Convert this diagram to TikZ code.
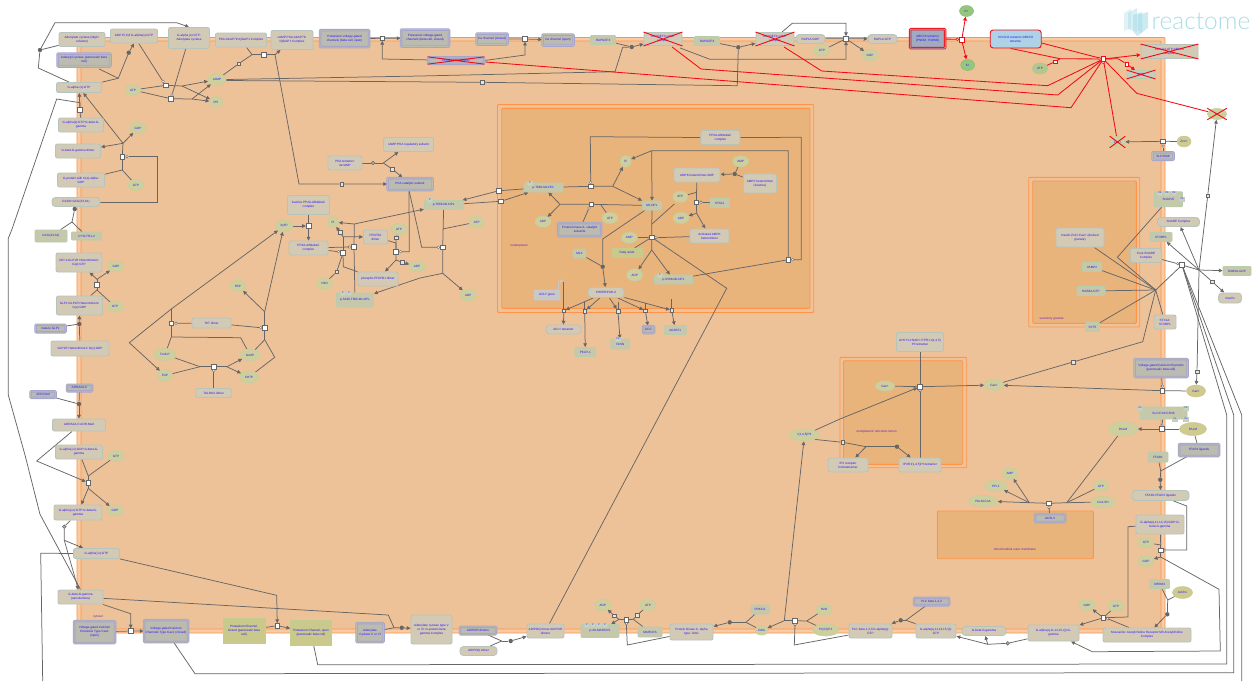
\documentclass[tikz,border=0pt]{standalone}
\usepackage{fontspec}
\setmainfont{Liberation Sans}
\newfontfamily\logof{Lato Light}
\usetikzlibrary{shapes.geometric,arrows.meta}
\pgfdeclarelayer{bg}\pgfdeclarelayer{edges}\pgfsetlayers{bg,edges,main}
\definecolor{ln}{HTML}{666666}
\definecolor{tx}{HTML}{2C10FF}
\definecolor{rd}{HTML}{F40A14}
\definecolor{cfill}{HTML}{D3CAB6}\definecolor{cedge}{HTML}{B6C4BC}
\definecolor{pfill}{HTML}{C6C8AC}\definecolor{pedge}{HTML}{B8CDAC}
\definecolor{sfill}{HTML}{BBBBB0}\definecolor{sedge}{HTML}{A4A4CE}
\definecolor{mfill}{HTML}{CDCF9E}\definecolor{medge}{HTML}{C4D09C}
\definecolor{dkfill}{HTML}{CFCB90}\definecolor{dkedge}{HTML}{CBC98E}
\definecolor{grfill}{HTML}{94C67F}\definecolor{gredge}{HTML}{86BE76}
\definecolor{yefill}{HTML}{C9C98C}\definecolor{yeedge}{HTML}{C5CC90}
\definecolor{tgfill}{HTML}{C8D4C0}\definecolor{tgedge}{HTML}{C0D0B8}
\definecolor{sqgrey}{HTML}{E4E4E0}\definecolor{cptx}{HTML}{6A20C0}
\definecolor{cpl}{HTML}{FF9448}\definecolor{cpa}{HTML}{F7CBA6}\definecolor{cpb}{HTML}{EEC298}\definecolor{cpc}{HTML}{E9B37C}
\definecolor{logoc}{HTML}{A9DCE8}\definecolor{abf}{HTML}{A0ABC0}\definecolor{kcf}{HTML}{AED2E6}
\definecolor{atg}{HTML}{B2C88C}\definecolor{ate}{HTML}{ACC88C}\definecolor{adg}{HTML}{C4CCC4}\definecolor{gng}{HTML}{C8C8C8}
\newcommand\J[2]{\coordinate (#1) at (#2);}
\newcommand\xcross[1]{\draw[xc] (#1.north -| #1.west)--(#1.south -| #1.east) (#1.north -| #1.east)--(#1.south -| #1.west);}
\tikzset{
 sz/.style 2 args={minimum width=#1,minimum height=#2},
 base/.style={inner sep=0pt,align=center,text=tx,font=\fontsize{3.1}{3.9}\selectfont},
 cx/.style={base,rectangle,fill=cfill,draw=cedge,line width=.9pt,rounded corners=2pt},
 pill/.style={cx,rounded corners=3.5pt},
 pr/.style={base,rectangle,fill=pfill,draw=pedge,line width=.8pt,rounded corners=1pt},
 st/.style={base,rectangle,fill=sfill,draw=sedge,line width=.8pt,double=sfill,double distance=.9pt,rounded corners=.8pt},
 mo/.style={base,ellipse,fill=mfill,draw=medge,line width=.6pt},
 modk/.style={base,ellipse,fill=dkfill,draw=dkedge,line width=.5pt},
 gr/.style={base,ellipse,fill=grfill,draw=gredge,line width=.5pt},
 ye/.style={base,rectangle,fill=yefill,draw=yeedge,line width=.5pt},
 tag/.style={base,rectangle,fill=tgfill,draw=tgedge,line width=.3pt,minimum width=5pt,minimum height=4pt,font=\fontsize{2.4}{3}\selectfont},
 rxn/.style={rectangle,fill=white,draw=ln,line width=.5pt,minimum size=4.6pt,inner sep=0pt},
 rxs/.style={rectangle,fill=sqgrey,draw=ln,line width=.4pt,minimum size=3.6pt,inner sep=0pt},
 cat/.style={circle,fill=white,draw=ln,line width=.4pt,minimum size=2.6pt,inner sep=0pt},
 dot/.style={circle,fill=ln,draw=none,minimum size=4.4pt,inner sep=0pt},
 ring/.style={circle,fill=ln!50!white,draw=ln,line width=.6pt,minimum size=3.6pt,inner sep=0pt},
 rrxn/.style={rxn,draw=rd,line width=.6pt},
 rcat/.style={cat,draw=rd,line width=.5pt},
 comp/.style={base,text=cptx,font=\fontsize{3.1}{3.6}\selectfont},
 ed/.style={draw=ln,line width=.75pt},
 ar/.style={ed,-{Triangle[length=3.8pt,width=3.6pt]}},
 re/.style={draw=rd,line width=.85pt},
 rar/.style={re,-{Triangle[length=3.8pt,width=3.6pt]}},
 xc/.style={draw=rd,line width=.9pt},
 cpo/.style={draw=cpl,line width=.9pt,rounded corners=1pt},
}
\begin{document}
\begin{tikzpicture}[x=1pt,y=-1pt]
\useasboundingbox (0,0) rectangle (1256,681);
\begin{pgfonlayer}{bg}
\fill[white] (0,0) rectangle (1256,681);
\draw[cpo,fill=cpa] (77,37.5) rectangle (1165,633);
\draw[cpo,fill=cpb] (81,41) rectangle (1161,629);
\draw[cpo,fill=cpb] (497.5,104.5) rectangle (813.7,312.5);
\draw[cpo,fill=cpc] (501.7,108.3) rectangle (810,308.3);
\draw[cpo,fill=cpb] (840,357.3) rectangle (966.7,467.7);
\draw[cpo,fill=cpc] (843.5,360.7) rectangle (962.7,464.3);
\draw[cpo,fill=cpb] (1028.7,177.3) rectangle (1139.7,327);
\draw[cpo,fill=cpc] (1032.7,181) rectangle (1136.3,323.3);
\draw[cpo,fill=cpc] (937.3,511) rectangle (1093.3,558.7);
\end{pgfonlayer}
% compartment labels
\node[comp] (lNuc) at (519,245.7) {nucleoplasm};
\node[comp] (lER) at (876.7,431.7) {endoplasmic reticulum lumen};
\node[comp] (lSec) at (1051.7,318.7) {secretory granule};
\node[comp] (lMit) at (1015,549.5) {mitochondrial outer membrane};
\node[comp] (lCyt) at (98,616.7) {cytosol};
% logo
\node[inner sep=0pt,text=logoc,font=\logof\fontsize{24.5}{25}\selectfont] (logo) at (1201,21) {reactome};
\fill[logoc,opacity=.35] (1124,13) -- (1131,9) -- (1131,28) -- (1124,31) -- cycle;
\fill[logoc,opacity=.45] (1128,13) -- (1137,8) -- (1137,32) -- (1128,29) -- cycle;
\fill[logoc,opacity=.55] (1133,15) -- (1142,12) -- (1142,33) -- (1137,36) -- (1133,31) -- cycle;
\fill[logoc,opacity=.6] (1138,15) -- (1148,12) -- (1148,28) -- (1141,33) -- (1138,30) -- cycle;
% ---- top row
\node[cx,sz={46}{14}] (acCof) at (82,39.5) {Adenylate cyclase (Mg2+\\cofactor)};
\node[st,sz={53}{13}] (acBeta) at (84,60) {Adenylyl cyclase (pancreatic beta\\cell)};
\node[cx,sz={47}{14}] (adcy) at (134,36) {ADCY5,6,8 G-alpha(s):GTP};
\node[cx,sz={41}{21}] (gasAC) at (189,38) {G-alpha (s):GTP:\\Adenylate cyclase};
\node[cx,sz={51}{14}] (pkaAk) at (241,40) {PKA:AKAP79:IQGAP1 Complex};
\node[cx,sz={42}{19}] (cAkap) at (292,40) {cAMP:PKA:AKAP79:\\IQGAP1 Complex};
\node[st,sz={49}{17}] (kOpen) at (344.5,38.7) {Potassium voltage-gated\\channels (beta cell, open)};
\node[st,sz={48}{17}] (kClosed) at (425,38) {Potassium voltage-gated\\channels (beta cell, closed)};
\node[st,sz={31}{11}] (caClosed) at (492,39) {Ca channel (closed)};
\node[st,sz={31}{11}] (caOpen) at (558,40) {Ca channel (open)};
\node[st,sz={56}{6.5}] (pclo) at (456,60.5) {PCLO:cAMP:RIMS2};
\node[pr,sz={25}{9}] (epac1) at (603,40) {RAPGEF3};
\node[cx,sz={38}{13}] (epac1c) at (663,39) {RAPGEF3:cAMP\\complex};
\node[pr,sz={25}{9}] (epac2) at (707,41) {RAPGEF4};
\node[cx,sz={38}{13}] (epac2c) at (775,39) {RAPGEF4:cAMP\\complex};
\node[pill,sz={29}{9}] (rapD) at (810.5,39) {RAP1A:GDP};
\node[pill,sz={29}{9}] (rapT) at (882.5,39) {RAP1A:GTP};
\node[mo,sz={16}{11}] (gtpR) at (822,50.5) {GTP};
\node[mo,sz={16}{11}] (gdpR) at (870,55) {GDP};
% red group
\node[st,draw=rd,sz={35}{19},fill=abf,double=abf] (abcc) at (927.7,38.7) {ABCC8 tetramer\\(PNDM, TNDM2)};
\node[cx,draw=rd,fill=kcf,rounded corners=3pt,sz={51}{18}] (kcnj) at (1015.7,39) {KCNJ11 tetramer:ABCC8\\tetramer};
\node[gr,sz={14}{11}] (kU) at (966.5,11) {K+};
\node[gr,sz={14}{11}] (kL) at (967.7,65) {K+};
\node[mo,fill=atg,draw=ate,sz={15}{11}] (atpK) at (1040,68.5) {ATP};
\node[cx,sz={57}{14}] (kcAtp) at (1169.5,51.5) {KCNJ11:ATP:ABCC8\\tetramer};
\node[pr,fill=adg,sz={28}{8}] (adpK) at (1141,74.5) {ADP};
\node[mo,sz={19}{11}] (xK) at (1217,114) {K+};
\node[mo,sz={15}{11}] (xZn) at (1117.5,142) {Zn2+};
\node[modk,sz={14}{11}] (zn) at (1184,141.5) {Zn2+};
\node[st,sz={21}{7.5}] (slc) at (1163,156) {SLC30A8};
% upper left
\node[cx,sz={45}{10}] (gasGTP) at (79,87.5) {G-alpha (s):GTP};
\node[mo,sz={15}{11}] (atp1) at (133,90) {ATP};
\node[mo,sz={18}{12}] (camp) at (217,79.5) {cAMP};
\node[mo,sz={13}{11}] (ppi1) at (216,102) {PPi};
\node[cx,sz={45}{14}] (gsH) at (81,125) {G-alpha(s):GTP:G-beta:G-\\gamma};
\node[mo,sz={16}{11}] (gdp1) at (138,128) {GDP};
\node[cx,sz={45}{14}] (gbgD) at (78,151) {G-beta:G-gamma dimer};
\node[cx,sz={47}{14}] (gProt) at (81,180) {G-protein with G(s)-alpha:\\GDP};
\node[mo,sz={16}{11}] (gtp1) at (136,185) {GTP};
\node[pill,sz={48}{9}] (gcgr) at (76,202) {GCGR:GCG(33-61)};
\node[pr,sz={32}{12}] (gcg) at (51,236) {GCG(33-61)};
\node[pr,sz={30}{8}] (gcgr2) at (86.5,236) {CYSLTR1-2};
\node[cx,sz={46}{19}] (glpT) at (79,262.5) {GIP-1:GLP1R Heterotrimeric\\G(s):GTP};
\node[mo,sz={16}{11}] (gdp2) at (116,266.5) {GDP};
\node[mo,sz={16}{11}] (gtp2) at (115,306.5) {GTP};
\node[cx,sz={46}{19}] (glpD) at (79.5,305.5) {GLP1:GLP1R Heterotrimeric\\G(s):GDP};
\node[st,sz={30}{7.5}] (glp1) at (50.5,328.5) {mature GLP1};
\node[cx,sz={58}{15}] (glpR) at (80,348.5) {GLP1R Heterotrimeric G(s):GDP};
\node[st,sz={25}{6.5}] (adra) at (79.5,388) {ADRA2A,C};
\node[st,sz={25}{6.5}] (adr) at (43,394.5) {ADR,NAd};
\node[cx,sz={53}{12}] (adraL) at (79,425) {ADRA2A,C:ADR,NAd};
\node[cx,sz={47}{14}] (giD) at (79,452) {G-alpha(i,o):GDP:G-beta:G-\\gamma};
\node[mo,sz={16}{11}] (gtp3) at (116,456) {GTP};
\node[cx,sz={48}{15}] (giT) at (78,512.5) {G-alpha(i,o):GTP:G-beta:G-\\gamma};
\node[mo,sz={16}{11}] (gdp3) at (115,510.5) {GDP};
\node[cx,sz={46}{10}] (giA) at (96.5,553.5) {G-alpha(i,o):GTP};
\node[cx,sz={45}{14}] (gbS) at (80.5,597) {G-beta:G-gamma\\(sarcolemma)};
\node[st,sz={41}{22}] (vgOpen) at (94.5,632) {Voltage-gated Calcium\\Channels Type Cav1\\(open)};
\node[st,sz={44}{22}] (vgClosed) at (166,631) {Voltage-gated Calcium\\Channels Type Cav1 (closed)};
\node[ye,sz={42}{25}] (kcClosed) at (244,630.5) {Potassium Channel,\\closed (pancreatic beta\\cell)};
\node[ye,sz={41}{25}] (kcOpen) at (311,632.5) {Potassium Channel, open\\(pancreatic beta cell)};
\node[st,sz={27}{19}] (acV) at (370,632.5) {Adenylate\\Cyclase V or VI};
\node[cx,sz={41}{29}] (acVg) at (431.5,629.5) {Adenylate cyclase type V\\or VI: G-protein beta\\gamma Complex};
\node[st,sz={36}{7.5}] (adipor) at (478,630.5) {ADIPOR dimers};
\node[pill,sz={37}{9}] (adipoq) at (478.5,651) {ADIPOQ trimer};
\node[cx,sz={37}{14}] (adipoc) at (545.5,631) {ADIPOQ trimer:ADIPOR\\dimers};
\node[pr,sz={38}{13}] (pMarcks) at (600,631) {p-4S-MARCKS};
\foreach \i/\xx in {1/587,2/593,3/599,4/605}{\node[tag] (tM\i) at (\xx,625) {P};}
\node[pr,sz={24}{10}] (marcks) at (650,632) {MARCKS};
\node[mo,sz={16}{11}] (adpM) at (602.7,605) {ADP};
\node[mo,sz={16}{11}] (atpM) at (648,605) {ATP};
\node[cx,sz={43}{16}] (pkc) at (691.5,632) {Protein kinase C, alpha\\type: DAG};
\node[pr,sz={18}{9}] (prkca) at (760,609.5) {PRKCA};
\node[mo,sz={13}{9}] (dag) at (761.7,630.5) {DAG};
\node[mo,sz={16}{11}] (h2oP) at (824,609.7) {H2O};
\node[mo,sz={26}{12}] (pip2) at (825.7,630) {PI(4,5)P2};
\node[cx,sz={43}{14}] (plcG) at (870.5,631) {PLC beta 1,2,3:G-alpha(q):\\GTP};
\node[st,sz={35}{7.5}] (plc) at (931.5,601.5) {PLC beta 1,2,3};
\node[cx,sz={40}{14}] (gqT) at (936,631) {G-alpha(q,11,14,15,Q):\\GTP};
\node[pill,sz={44}{9}] (gbgQ) at (984,631) {G-beta:G-gamma};
\node[cx,sz={51}{16}] (gqH) at (1053.5,633) {G-alpha(q,11,14,15,Q):G-\\gamma};
\node[cx,sz={88}{14}] (mAch) at (1147,635) {Muscarinic Acetylcholine Receptor M3:Acetylcholine\\Complex};
\node[mo,sz={16}{11}] (gdpQ) at (1087,605) {GDP};
\node[mo,sz={16}{11}] (gtpQ) at (1116,606) {GTP};
\node[pr,sz={20}{9}] (chrm) at (1159.5,584) {CHRM3};
\node[modk,sz={20}{12}] (acch) at (1182.5,592.5) {AcCho};
\node[cx,sz={48}{19}] (gqD) at (1160,524.5) {G-alpha(q,11,14,15):GDP:G-\\beta:G-gamma};
\node[mo,sz={16}{11}] (gtpF) at (1146,542.5) {GTP};
\node[mo,sz={16}{11}] (gdpF) at (1146,561) {GDP};
\node[pill,sz={57}{10}] (ffarL) at (1160.5,495.5) {FFAR1:FFAR1 ligands};
\node[pr,sz={20}{10}] (ffar) at (1158,457) {FFAR1};
\node[st,sz={40}{12}] (ligS) at (1199,450) {FFAR1 ligands};
\node[modk,sz={27}{13}] (palmO) at (1193,429) {PALM};
\node[mo,sz={29}{14}] (palmI) at (1123,429) {PALM};
\node[pr,sz={47}{12}] (cd36) at (1163.5,413) {SLC27A6:CD36};
\foreach \i/\xx/\yy in {1/1140/408,2/1186/408,3/1175/419,4/1186/419}{\node[tag] (tC\i) at (\xx,\yy) {Pa};}
\node[st,sz={53}{18}] (vgBeta) at (1161,368) {Voltage-gated Calcium Channels\\(pancreatic beta cell)};
\node[modk,sz={19}{12}] (caO) at (1196,391) {Ca2+};
\node[mo,sz={19}{11}] (caC) at (994,385) {Ca2+};
\node[mo,sz={19}{10}] (caE) at (885,386) {Ca2+};
\node[cx,sz={47}{19}] (ahcy) at (920,342) {AHCYL1:NAD+:ITPR1:I(1,4,5)\\P3 tetramer};
\node[cx,sz={40}{14}] (ip3r) at (848,465) {IP3 receptor\\homotetramer};
\node[cx,sz={42}{14}] (ip3t) at (920,465) {IP3R:I(1,4,5)P3 tetramer};
\node[mo,sz={29}{12}] (ip3) at (804.5,435) {I(1,4,5)P3};
% acsl
\node[mo,sz={16}{11}] (amp3) at (1010,473.5) {AMP};
\node[mo,sz={22}{11}] (ppi3) at (995.8,486) {PPi-1};
\node[mo,sz={29}{11}] (palmC) at (983,501) {PALM-CoA};
\node[mo,sz={15}{11}] (atpA) at (1101,486) {ATP};
\node[mo,sz={24}{11}] (coa) at (1103,502) {CoA-SH};
\node[st,sz={30}{8}] (acsl) at (1050,518) {ACSL3};
% right
\node[pr,sz={28}{15}] (snap) at (1168.5,199.3) {SNAP25};
\foreach \i/\xx/\yy in {1/1160/193,2/1167/193,3/1174/193,4/1182/199}{\node[tag] (tS\i) at (\xx,\yy) {PA};}
\node[pill,sz={42}{9}] (snare) at (1178.5,222) {SNARE Complex};
\node[cx,sz={48}{19}] (gran) at (1080,237.5) {Insulin:Zn2+:Ca2+ (docked\\granule)};
\node[pr,sz={22}{9}] (stxbp) at (1161,237) {STXBP1};
\node[cx,sz={31}{14}] (core) at (1146,255.3) {Core SNARE\\Complex};
\node[pr,sz={19}{9}] (vamp) at (1092,267) {VAMP2};
\node[pr,sz={28}{9}] (rabT) at (1091,291) {RAB3A-GTP};
\node[pr,sz={14}{9}] (syt) at (1092.5,327) {SYT5};
\node[cx,sz={22}{14}] (stx) at (1165,322) {STX1A:\\STXBP1};
\node[pr,sz={28}{9}] (rabD) at (1237,271) {RAB3A-GDP};
\node[pill,sz={23}{10}] (ins) at (1230,298) {Insulin};
% center
\node[cx,sz={42}{19}] (ppIn) at (308.5,205) {inactive PP2A-ABdeltaC\\complex};
\node[cx,sz={34}{14}] (pkaT) at (345,163) {PKA tetramer:\\4xcAMP};
\node[cx,sz={50}{14}] (pkaR) at (408.5,144.5) {cAMP:PKA regulatory subunit};
\node[st,sz={45}{12}] (pkaC) at (410,184) {PKA catalytic subunit};
\node[mo,sz={18}{11}] (xy5) at (284,226) {Xy5P};
\node[cx,sz={39}{14}] (ppC) at (308.5,248) {PP2A-ABdeltaC\\complex};
\node[mo,sz={11}{11}] (piA) at (333,222) {Pi};
\node[mo,sz={16}{11}] (atpF) at (399,229) {ATP};
\node[cx,sz={24}{14}] (pfk) at (375.5,237) {PFKFB1\\dimer};
\node[cx,sz={40}{14}] (pfkP) at (378,279) {phospho-PFKFB1 dimer};
\node[pr,sz={37}{14}] (pST) at (355,300) {p-S196,T666-MLXIPL};
\node[tag] (tP1) at (343,293) {P};\node[tag] (tP2) at (349,293) {P};
\node[mo,sz={16}{11}] (h2oA) at (324.5,283.5) {H2O};
\node[mo,sz={16}{11}] (adpF) at (417,266.5) {ADP};
\node[mo,sz={16}{12}] (adpG) at (468.3,295) {ADP};
\node[mo,sz={15}{11}] (atpG) at (476.7,222) {ATP};
\node[pr,sz={39}{9}] (pT1) at (443.7,205) {p-T666-MLXIPL};
\node[tag] (tT1) at (430,200) {P};
\node[pr,sz={39}{9}] (pT2) at (543.5,187.5) {p-T666-MLXIPL};
\node[tag] (tT2) at (530,183) {P};
\node[mo,sz={11}{12}] (piB) at (625.7,161.3) {Pi};
\node[pr,sz={19}{9}] (mlxipl) at (652,205.5) {MLXIPL};
\node[mo,sz={16}{11}] (adpH) at (543,221.7) {ADP};
\node[mo,sz={16}{11}] (atpH) at (610,218) {ATP};
\node[st,sz={43}{13}] (pkaN) at (579.7,229.5) {Protein kinase A, catalytic\\subunits};
\node[cx,sz={39}{14}] (ppN) at (720.3,137.5) {PP2A-ABdeltaC\\complex};
\node[mo,sz={16}{11}] (ampN) at (740.7,161.3) {AMP};
\node[cx,sz={46}{14}] (ampkA) at (697,175) {AMPK heterotrimer:AMP};
\node[cx,sz={33}{19}] (ampkI) at (760,183.5) {AMPK heterotrimer\\(inactive)};
\node[mo,sz={15}{11}] (atpN) at (680.3,196.7) {ATP};
\node[mo,sz={16}{11}] (adpN) at (681,218) {ADP};
\node[pr,sz={19}{9}] (stk) at (719.7,203) {STK11};
\node[cx,sz={39}{14}] (ampkO) at (709.5,236) {Activated AMPK\\heterotrimer};
\node[mo,sz={16}{11}] (ampF) at (629.3,237.7) {AMP};
\node[ye,sz={30}{9}] (fa) at (627,252.5) {Fatty acids};
\node[mo,sz={16}{12}] (adpS) at (634.7,275) {ADP};
\node[pr,sz={38}{9}] (pS) at (673.5,279.5) {p-S568-MLXIPL};
\node[tag] (tS) at (660,275) {P};
\node[pr,sz={13}{9}] (mlx) at (579.5,253.5) {MLX};
\node[pill,sz={36}{10}] (chre) at (606,292.5) {CHREBP:MLX};
\node[pr,fill=gng,draw=gng,rounded corners=1pt,sz={26}{10}] (acg) at (547,295) {ACLY gene};
\node[pill,sz={35}{9}] (acly) at (563.5,329.5) {ACLY tetramer};
\node[pr,sz={21}{9}] (pklr) at (585.3,352) {PKLR-1};
\node[pr,sz={19}{10}] (fasn) at (620.3,344) {FASN};
\node[tag] (tF) at (618,339) {PE};
\node[st,sz={11}{7}] (acc) at (648.5,329.5) {ACC};
\node[pr,sz={22}{9}] (agp) at (675.3,330) {AGPAT1};
% PPP
\node[mo,sz={15}{12}] (r5p) at (238,286) {R5P};
\node[mo,sz={22}{12}] (fru) at (165,354.5) {Fru6-P};
\node[mo,sz={15}{12}] (e4p) at (165,375.5) {E4P};
\node[mo,sz={19}{12}] (ga3) at (250,355) {GA3P};
\node[mo,sz={19}{12}] (sh7) at (249,377) {SH7P};
\node[cx,sz={36}{9}] (tald) at (213.7,393) {TALDO1 dimer};
\node[cx,sz={39}{10}] (tkt) at (211.5,323) {TKT dimer};
% ---- crosses
\xcross{pclo}\xcross{epac1c}\xcross{epac2c}\xcross{kcAtp}\xcross{adpK}\xcross{xK}\xcross{xZn}
% ---- reaction markers
\foreach \n/\p in {
 r1/{165.7,85.3},r2/{170.7,98.7},r3/{263.7,54.7},r4/{382.3,38.3},r5/{525,39},r6/{846,38.7},
 r7/{80,110},r8/{122.3,156.7},r9/{97,284.7},r10/{88.3,482.7},r11/{130.7,631},r12/{277.3,625.7},
 r13/{308.5,226},r14/{354,247},r15/{343,253},r16/{396,251.7},r17/{442.7,247.3},r18/{499,190.7},
 r19/{501,201.3},r20/{590.7,186.3},r21/{591.3,204.3},r22/{788.3,259.7},r23/{696.3,202.3},r24/{651.7,237.3},
 r25/{264.7,327.7},r26/{171.3,323.3},r27/{213.7,366.7},r28/{626.3,619.7},r29/{795,620.7},r30/{920,386.7},
 r31/{1162.7,141.3},r32/{1162.3,390.7},r33/{1162,429},r34/{1049,503.3},r35/{1160.7,550.3},r36/{1103.3,617.7},r37/{1182,265}}
 {\node[rxn] (\n) at (\p) {};}
\foreach \n/\p in {
 s1/{238.7,63.7},s2/{341.7,184},s3/{392.3,169},s4/{482,82.3},s5/{396,237.7},s6/{402,262.3},s7/{336.7,271.7},s8/{340,232.3},
 s9/{563.7,310.7},s10/{584.7,311.3},s11/{618,311},s12/{645.3,310.7},s13/{671.7,310.3},s14/{614.3,615.7},s15/{637.3,615.3},
 s16/{1073,362},s17/{842.7,442.3},s18/{1207.7,195.7},s19/{1212.3,281.7},s20/{1197,371.7}}
 {\node[rxs] (\n) at (\p) {};}
\foreach \n/\p in {
 c1/{163,81.5},c2/{172,95},c3/{127,156.7},c4/{176,323.3},c5/{260.7,327.7},c6/{349.3,247},c7/{338.3,251.7},c8/{400.7,251.7},
 c9/{438.3,247.3},c10/{590.7,182.3},c11/{589,208},c12/{792.7,259.7},c13/{701,202.3},c14/{656,237.7},c15/{213.7,370.7},c16/{626.3,623.7},
 c17/{795,624.7},c18/{920,390.7},c19/{1163,146},c20/{1162.3,386},c21/{1162,425},c22/{1049,507.7},c23/{1165,550},c24/{1107.7,618.7},c25/{1177.7,263.7}}
 {\node[cat] (\n) at (\p) {};}
\foreach \n/\p in {
 d1/{40,50},d2/{128.7,52.7},d3/{74.7,209},d4/{79.3,324},d5/{79,404},d6/{631.7,47},d7/{738.3,47.3},d8/{734.7,174},d9/{602.7,266.7},
 d10/{401.7,627.7},d11/{510.7,641},d12/{729.7,622.3},d13/{900.7,620.3},d14/{897,446.7},d15/{1160.3,479.7},d16/{1167.3,614.3}}
 {\node[dot] (\n) at (\p) {};}
\node[ring] (g1) at (373,163) {};
\node[ring] (g2) at (64.3,526.7) {};
\node[ring] (g3) at (1007.7,643.3) {};
\node[rrxn] (rH) at (1103.3,59) {};
\node[rrxn] (rK) at (961.7,40) {};
\node[rrxn,minimum size=3.8pt] (rA) at (1055,61.7) {};
\node[rrxn,minimum size=3.8pt] (rB) at (1126.7,64) {};
\node[rcat] (rc1) at (1099,58.3) {};
\node[rcat] (rc2) at (1103,62.6) {};
\node[rcat] (rc3) at (957.3,39.3) {};
% ---- junctions
\J{jA}{182,86}\J{jB}{192,99}\J{jC}{252,54.7}\J{jD}{275,54.7}\J{jE}{118.3,78.3}\J{jF}{123,143.3}\J{jG}{122.3,170}
\J{jH}{72,222}\J{jI}{56.7,99}\J{jJ}{383.3,163}\J{jK}{97,279.3}\J{jL}{97,290}\J{jM}{36.7,461}\J{jN}{88.3,476}\J{jO}{88.3,488.3}
\J{jP}{64.3,540.3}\J{jQ}{171.3,309}\J{jR}{171.3,337}\J{jS}{264.7,311.7}\J{jT}{264.7,339.7}\J{jU}{200,366.7}\J{jV}{226.7,366.7}
\J{jW}{396,260}\J{jX}{343.3,266.7}\J{jY}{343,236.7}\J{jZ}{354.3,224}
\J{ka}{442.7,273.3}\J{kb}{442.7,229}\J{kc}{612.7,186.3}\J{kd}{560,204.3}\J{ke}{601,205}\J{kf}{651.7,150.7}\J{kg}{696.7,192.3}\J{kh}{696.7,213.3}
\J{ki}{651.7,250}\J{kj}{652,224}\J{kk}{501.7,641}\J{km}{746,622.3}\J{kn}{784.3,620.7}\J{ko}{806.7,621}\J{kp}{619,619.3}\J{kq}{633.3,619.3}
\J{kr}{906,620.3}\J{ks}{987.7,644.3}\J{kt}{1167.7,600}\J{ku}{1160.7,471}\J{kv}{1160.7,545}\J{kw}{1160.7,557}
\J{kx}{1066.7,502.7}\J{ky}{1029.3,502.7}\J{kz}{866,446.7}
\J{ma}{1155.7,290}\J{mb}{1199,270}\J{mc}{394,627.7}\J{md}{80,102.7}\J{me}{846,44}\J{mf}{846,33}\J{mg}{628,45}
% ---- connectors
\begin{pgfonlayer}{edges}
\draw[ed] (acCof) -- (d1);
\draw[ed] (gasGTP.north) ++(-10,0) -- (38.3,68) -- (d1);
\draw[ar] (d1) -- (55,22.7) -- (176.7,22.7) -- (gasAC.north);
\draw[ed] (gasGTP) -- (jE); \draw[ed] (acBeta.south) ++(15,2) -- (jE);
\draw[ed] (jE) -- (d2); \draw[ar] (d2) -- (adcy.south);
\draw[ed] (atp1) -- (r1); \draw[ed] (atp1) -- (r2);
\draw[ed] (r1) -- (jA); \draw[ar] (jA) -- (camp); \draw[ar] (jA) -- (ppi1);
\draw[ed] (r2) -- (jB); \draw[ar] (jB) -- (camp); \draw[ar] (jB) -- (ppi1);
\draw[ed] (adcy) -- (c1); \draw[ed] (gasAC) -- (c2);
\draw[ed] (camp) -- (s1) -- (jC); \draw[ed] (pkaAk) -- (jC); \draw[ed] (jC) -- (r3) -- (jD);
\draw[ar] (jD) -- (cAkap); \draw[ar] (jD) -- (299,184) -- (s2) -- (pkaC);
\draw[ar] (kOpen) -- (r4) -- (kClosed);
\draw[ar] (pclo) -- (382.3,59) -- (r4);
\draw[ar] (caClosed) -- (r5) -- (caOpen);
\draw[ar] (pclo.east) -- (525,55) -- (r5);
\draw[ed] (camp.east) -- (420,76) -- (615,71.7) -- (622.7,47.3) -- (d6);
\draw[ed] (camp.east) ++(0,1) -- (s4) -- (737.3,85.7) -- (d7);
\draw[ed] (epac1) -- (d6); \draw[ar] (d6) -- (epac1c);
\draw[ed] (epac2) -- (d7); \draw[ar] (d7) -- (epac2c);
\draw[ar] (rapD) -- (r6) -- (rapT);
\draw[ed] (gtpR) -- (r6); \draw[ar] (r6) -- (gdpR);
\draw[ar] (epac1c.south) ++(17,2) -- (710,59.3) -- (846,59.3) -- (r6);
\draw[ar] (epac2c.north) ++(7,0) -- (792.3,23.3) -- (846,23.3) -- (r6);
% red
\draw[re] (pclo.east) ++(1,1.5) -- (1071,107.7) -- (rH);
\draw[re] (epac1c.south) ++(9,1) -- (701,69) -- (1057.7,95) -- (rH);
\draw[re] (epac2c.south) ++(9,1) -- (821.7,71) -- (1047.7,85.7) -- (rH);
\draw[re] (abcc) -- (rc3); \draw[re] (rc3) -- (rK);
\draw[rar] (rK) -- (kU); \draw[rar] (rK) -- (kL);
\draw[re] (kcnj.east) ++(0,4) -- (rH);
\draw[re] (kcnj.south) ++(-5,0) -- (1060,58.7) -- (rH);
\draw[re] (atpK) -- (rA) -- (1060,58.7);
\draw[rar] (rH) -- (kcAtp);
\draw[re] (rH) -- (1118,58.7) -- (rB); \draw[rar] (rB) -- (adpK);
\draw[re] (rH) -- (1136.7,93.3) -- (xK);
\draw[re] (rH) -- (xZn);
% zinc
\draw[ar] (zn) -- (r31) -- (xZn); \draw[ed] (slc) -- (c19);
\draw[ar] (mb) -- (s18) -- (xK);
% gpcr
\draw[ar] (gsH) -- (r7) -- (gasGTP);
\draw[ed] (r7) -- (md) -- (jI) -- (11.7,230) -- (8.3,238.3) -- (8.3,395) -- (25,455) -- (40,514.3) -- (gbS.north);
\draw[ed] (r8) -- (jF); \draw[ar] (jF) -- (gdp1); \draw[ar] (jF) -- (gbgD); \draw[ar] (jF) -- (gasGTP);
\draw[ed] (r8) -- (jG); \draw[ed] (gProt) -- (jG); \draw[ed] (gtp1) -- (jG);
\draw[ed] (gcgr) -- (157.7,202) -- (157.7,156.7) -- (c3);
\draw[ed] (gcg) -- (jH); \draw[ed] (gcgr2) -- (jH); \draw[ed] (jH) -- (d3); \draw[ar] (d3) -- (gcgr);
\draw[ed] (r9) -- (jK); \draw[ar] (jK) -- (glpT); \draw[ar] (jK) -- (gdp2);
\draw[ed] (r9) -- (jL); \draw[ed] (glpD) -- (jL); \draw[ed] (gtp2) -- (jL);
\draw[ed] (glpR) -- (d4); \draw[ed] (glp1) -- (d4); \draw[ar] (d4) -- (glpD);
\draw[ed] (adra) -- (d5); \draw[ed] (adr) -- (d5); \draw[ar] (d5) -- (adraL);
\draw[ar] (adraL.south) ++(-7,0) -- (jM) -- (r10);
\draw[ed] (giD) -- (jN); \draw[ed] (gtp3) -- (jN); \draw[ed] (jN) -- (r10) -- (jO);
\draw[ar] (jO) -- (giT); \draw[ar] (jO) -- (gdp3);
\draw[ed] (giT) -- (g2) -- (jP); \draw[ar] (jP) -- (giA); \draw[ar] (jP) -- (gbS);
\draw[ar] (giA) -- (276.7,595.3) -- (r12);
\draw[ar] (kcClosed) -- (r12) -- (kcOpen);
\draw[ar] (gbS) -- (130.7,613.7) -- (r11);
\draw[ar] (vgOpen) -- (r11) -- (vgClosed);
\draw[ed] (gbS) -- (388.3,615) -- (mc);
\draw[ed] (acV) -- (mc) -- (d10); \draw[ar] (d10) -- (acVg);
% long bottom lines
\draw[ed] (r37) -- (1226.7,415) -- (1226.7,664) -- (317.7,664.7) -- (kcOpen);
\draw[ed] (r37) -- (1233.7,415) -- (1233.7,672.7) -- (195,673.7) -- (vgClosed);
\draw[ed] (r37) -- (1241.7,415) -- (1241.7,681);
\draw[ed] (42.7,681) -- (40.7,553.3) -- (giA);
% adipo
\draw[ed] (adipor) -- (kk); \draw[ed] (adipoq) -- (kk); \draw[ed] (kk) -- (d11); \draw[ar] (d11) -- (adipoc);
\draw[ed] (adipoc) -- (726.7,288.3) -- (r24);
% marcks
\draw[ed] (pkc) -- (627.3,645) -- (c16);
\draw[ed] (marcks) -- (kq) -- (r28); \draw[ed] (atpM) -- (s15) -- (kq);
\draw[ed] (r28) -- (kp); \draw[ar] (kp) -- (s14) -- (adpM); \draw[ar] (kp) -- (pMarcks);
\draw[ed] (prkca) -- (km); \draw[ed] (dag) -- (km); \draw[ed] (km) -- (d12); \draw[ar] (d12) -- (pkc);
\draw[ed] (plcG) -- (794.3,645) -- (c17);
\draw[ed] (r29) -- (kn); \draw[ar] (kn) -- (dag); \draw[ar] (kn) -- (ip3);
\draw[ed] (h2oP) -- (ko); \draw[ed] (pip2) -- (ko); \draw[ed] (ko) -- (r29);
\draw[ed] (plc) -- (kr); \draw[ed] (gqT) -- (kr); \draw[ed] (kr) -- (d13); \draw[ar] (d13) -- (plcG);
\draw[ed] (gqH) -- (g3) -- (ks); \draw[ar] (ks) -- (gbgQ); \draw[ar] (ks) -- (gqT);
% ca
\draw[ed] (ahcy) -- (r30); \draw[ed] (ip3t) -- (c18);
\draw[ed] (caE) -- (r30); \draw[ar] (r30) -- (caC);
\draw[ar] (ip3) -- (840,419) -- (r30);
\draw[ed] (ip3.south east) -- (s17) -- (kz); \draw[ar] (kz) -- (ip3r);
\draw[ed] (kz) -- (d14); \draw[ar] (d14) -- (ip3t);
\draw[ed] (vgBeta) -- (c20); \draw[ar] (caO) -- (r32) -- (caC);
\draw[ed] (cd36) -- (c21); \draw[ar] (palmO) -- (r33) -- (palmI);
\draw[ed] (palmO) -- (ligS);
\draw[ed] (palmI) -- (1103.3,455) -- (kx);
\draw[ed] (atpA) -- (kx); \draw[ed] (coa) -- (kx); \draw[ed] (kx) -- (r34) -- (ky);
\draw[ar] (ky) -- (amp3); \draw[ar] (ky) -- (ppi3); \draw[ar] (ky) -- (palmC);
\draw[ed] (acsl) -- (c22);
\draw[ed] (ffar) -- (ku); \draw[ed] (ligS) -- (ku); \draw[ed] (ku) -- (d15); \draw[ar] (d15) -- (ffarL);
\draw[ed] (ffarL.south) ++(13,0) -- (1186.7,506) -- (1186.7,550) -- (c23);
\draw[ed] (gqD) -- (kv); \draw[ed] (gtpF) -- (kv); \draw[ed] (kv) -- (r35) -- (kw);
\draw[ar] (kw) -- (gdpF); \draw[ar] (kw) -- (1219,589.3) -- (1220.3,651) -- (1092.3,651.7) -- (gqH);
\draw[ed] (gqD) -- (1128,526.7) -- (1128,617) -- (r36);
\draw[ed] (mAch) -- (c24);
\draw[ar] (r36) -- (gdpQ); \draw[ar] (r36) -- (gqH); \draw[ed] (gtpQ) -- (r36);
\draw[ed] (chrm) -- (kt); \draw[ed] (acch) -- (kt); \draw[ed] (kt) -- (d16); \draw[ar] (d16) -- (mAch);
% snare hub
\draw[ed] (gran) -- (ma); \draw[ed] (vamp) -- (ma); \draw[ed] (rabT) -- (ma); \draw[ed] (syt) -- (ma); \draw[ed] (stx) -- (ma);
\draw[ed] (snap) -- (1117.3,257.3) -- (ma);
\draw[ed] (caC) -- (s16) -- (1142.7,341.7) -- (ma);
\draw[ed] (ma) -- (r37); \draw[ed] (core) -- (c25);
\draw[ed] (r37) -- (mb); \draw[ar] (mb) -- (rabD);
\draw[ar] (mb) -- (snare); \draw[ar] (mb) -- (stxbp);
\draw[ar] (mb) -- (s19) -- (ins);
\draw[ar] (mb) -- (s20) -- (caO);
% pka
\draw[ed] (pkaT) -- (g1) -- (jJ); \draw[ar] (jJ) -- (pkaR); \draw[ar] (jJ) -- (s3) -- (pkaC);
\draw[ed] (pkaC.south) ++(-1,0) -- (409.3,251.7) -- (c8);
\draw[ed] (pkaC.south) ++(-1,0) -- (418,230) -- (421.7,247.3) -- (c9);
\draw[ed] (atpF) -- (s5) -- (r16);
\draw[ed] (pfk) -- (396,243) -- (r16) -- (jW);
\draw[ar] (jW) -- (pfkP); \draw[ar] (jW) -- (s6) -- (adpF);
% pp2a
\draw[ar] (xy5) -- (r13); \draw[ed] (ppIn) -- (r13); \draw[ar] (r13) -- (ppC);
\draw[ed] (ppC) -- (c6); \draw[ed] (ppC) -- (c7);
\draw[ed] (h2oA) -- (s7) -- (r15); \draw[ed] (pfkP) -- (jX) -- (r15);
\draw[ed] (r15) -- (jY); \draw[ar] (jY) -- (pfk); \draw[ar] (jY) -- (s8) -- (piA);
\draw[ed] (pST) -- (r14) -- (jZ); \draw[ar] (jZ) -- (pT1); \draw[ar] (jZ) -- (piA);
% mlxipl
\draw[ed] (pT1) -- (r17) -- (ka); \draw[ar] (ka) -- (adpG); \draw[ar] (ka) -- (420,278) -- (pST);
\draw[ed] (atpG) -- (kb);
\draw[ar] (pT2) -- (r18) -- (pT1);
\draw[ar] (pT1) -- (r19) -- (pT2);
\draw[ed] (pT2) -- (r20) -- (kc); \draw[ar] (kc) -- (piB); \draw[ar] (kc) -- (mlxipl);
\draw[ed] (ppN.west) -- (590.3,136.7) -- (c10);
\draw[ed] (mlxipl) -- (r21) -- (kd); \draw[ar] (kd) -- (pT2); \draw[ar] (kd) -- (adpH);
\draw[ed] (atpH) -- (ke); \draw[ed] (pkaN) -- (c11);
\draw[ed] (ppN.east) -- (801.3,137.3) -- (801.3,259.7) -- (c12);
\draw[ed] (pS) -- (r22) -- (788.3,150.7) -- (kf); \draw[ar] (kf) -- (piB); \draw[ar] (kf) -- (mlxipl);
\draw[ed] (ampN) -- (d8); \draw[ed] (ampkI) -- (d8); \draw[ar] (d8) -- (ampkA);
\draw[ed] (ampkA) -- (r23) -- (kh); \draw[ed] (atpN) -- (kg);
\draw[ar] (kh) -- (adpN); \draw[ar] (kh) -- (ampkO); \draw[ed] (stk) -- (c13);
\draw[ed] (ampkO) -- (c14);
\draw[ed] (ampF) -- (r24); \draw[ed] (fa) -- (r24); \draw[ed] (mlxipl) -- (r24) -- (ki);
\draw[ed] (kj) -- (674.3,204);
\draw[ar] (ki) -- (adpS); \draw[ar] (ki) -- (pS);
\draw[ed] (mlxipl) -- (602.7,239) -- (d9); \draw[ed] (mlx) -- (d9); \draw[ar] (d9) -- (chre);
% genes
\draw[ar] (chre) -- (s9); \draw[ar] (chre) -- (s10); \draw[ar] (chre) -- (s11); \draw[ar] (chre) -- (s12); \draw[ar] (chre) -- (s13);
\draw[ed] (563.7,281.7) -- (s9); \draw[ar] (s9) -- (acly);
\draw[ed] (584.7,302.3) -- (s10); \draw[ar] (s10) -- (pklr);
\draw[ed] (618,302.3) -- (s11); \draw[ar] (s11) -- (fasn);
\draw[ed] (645.3,303.3) -- (s12); \draw[ar] (s12) -- (acc);
\draw[ed] (671.7,299) -- (s13); \draw[ar] (s13) -- (agp);
\draw[draw=gng,line width=.9pt,-{Triangle[length=3.2pt,width=3.5pt]}] (558,290) -- (558,281) -- (563.5,281);
% ppp
\draw[ed] (tkt) -- (c5); \draw[ed] (tkt) -- (c4);
\draw[ed] (r25) -- (jS); \draw[ar] (jS) -- (r5p); \draw[ar] (jS) -- (xy5);
\draw[ed] (r25) -- (jT); \draw[ed] (ga3) -- (jT); \draw[ed] (sh7) -- (274.7,357.3) -- (jT);
\draw[ed] (r26) -- (jQ); \draw[ar] (jQ) -- (xy5); \draw[ar] (jQ) -- (129.3,342.7) -- (e4p);
\draw[ed] (r26) -- (jR); \draw[ed] (jR) -- (240.7,337.7) -- (ga3); \draw[ed] (jR) -- (fru);
\draw[ed] (tald) -- (c15);
\draw[ed] (fru) -- (jU); \draw[ed] (e4p) -- (jU); \draw[ed] (jU) -- (r27) -- (jV);
\draw[ar] (jV) -- (ga3); \draw[ar] (jV) -- (sh7);
\end{pgfonlayer}
\end{tikzpicture}
\end{document}
